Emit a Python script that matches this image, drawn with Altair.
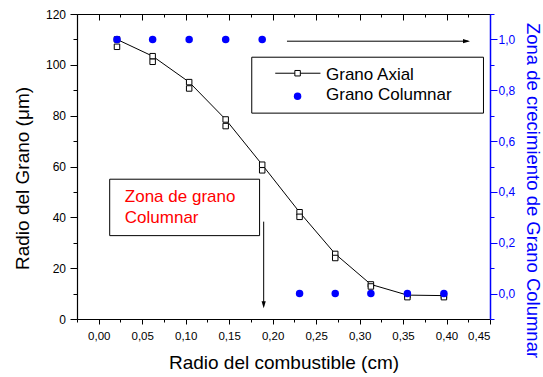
import altair as alt
import pandas as pd

# Measured grain data along the fuel radius
radius = [0.021, 0.062, 0.104, 0.146, 0.188, 0.231, 0.272, 0.313, 0.355, 0.397]
axial_upper = [110.0, 103.4, 93.2, 78.5, 60.7, 42.0, 25.6, 13.6, 9.4, 9.2]
axial_lower = [107.1, 101.2, 90.7, 75.9, 58.5, 40.2, 24.0, 12.8, 8.6, 8.6]
columnar_zone = [1, 1, 1, 1, 1, 0, 0, 0, 0, 0]

# Axis tick positions
x_major = [0.0, 0.05, 0.10, 0.15, 0.20, 0.25, 0.30, 0.35, 0.40, 0.45]
x_minor = [-0.025, 0.025, 0.075, 0.125, 0.175, 0.225, 0.275, 0.325, 0.375, 0.425]
yl_major = [0, 20, 40, 60, 80, 100, 120]
yl_minor = [10, 30, 50, 70, 90, 110]
yr_major = [0.0, 0.2, 0.4, 0.6, 0.8, 1.0]
yr_minor = [-0.1, 0.1, 0.3, 0.5, 0.7, 0.9, 1.1]

FONT = "Liberation Sans"
BLUE = "#0000ff"

axial = pd.DataFrame({"radius": radius, "upper": axial_upper, "lower": axial_lower})
axial_pts = pd.DataFrame({"radius": radius * 2, "value": axial_upper + axial_lower})
columnar = pd.DataFrame({"radius": radius, "zone": columnar_zone})

xs = alt.Scale(domain=[-0.025, 0.45], nice=False, zero=False)
yl = alt.Scale(domain=[0, 120], nice=False, zero=False)
yr = alt.Scale(domain=[-0.1, 1.1], nice=False, zero=False)

x_fmt = "replace(format(datum.value, '.2f'), '.', ',')"
yr_fmt = "replace(format(datum.value, '.1f'), '.', ',')"

# Axial grain line (bottom and left main axes)
axial_line = alt.Chart(axial).mark_line(color="black", strokeWidth=1).encode(
    x=alt.X("radius:Q", scale=xs, axis=alt.Axis(
        orient="bottom", values=x_major, labelExpr=x_fmt, tickSize=5, tickColor="black",
        domainColor="black", domainWidth=1.2, labelFont=FONT, labelFontSize=11.5,
        labelColor="black", labelBaseline="alphabetic", labelPadding=15, grid=False,
        title="Radio del combustible (cm)", titleFont=FONT, titleFontSize=19,
        titleFontWeight="normal", titleColor="black", titleBaseline="alphabetic",
        titleY=49, titleX=206.5, titleAnchor="middle")),
    y=alt.Y("upper:Q", scale=yl, axis=alt.Axis(
        orient="left", values=yl_major, format="d", tickSize=7, tickColor="black",
        domainColor="black", domainWidth=1.2, labelFont=FONT, labelFontSize=12,
        labelColor="black", labelPadding=4.5, grid=False,
        title="Radio del Grano (\u03bcm)", titleFont=FONT, titleFontSize=19,
        titleFontWeight="normal", titleColor="black", titleAngle=-90,
        titleAlign="center", titleBaseline="alphabetic", titleX=-49, titleY=164)),
)

# Axial grain markers (minor ticks on bottom and left)
axial_marks = alt.Chart(axial_pts).mark_point(
    shape="square", filled=True, fill="white", stroke="black", strokeWidth=1,
    size=30, opacity=1).encode(
    x=alt.X("radius:Q", scale=xs, axis=alt.Axis(
        orient="bottom", values=x_minor, labels=False, domain=False, tickSize=3,
        tickColor="black", grid=False, title=None)),
    y=alt.Y("value:Q", scale=yl, axis=alt.Axis(
        orient="left", values=yl_minor, labels=False, domain=False, tickSize=4,
        tickColor="black", grid=False, title=None)),
)

def frame_layer(x_axis):
    return alt.Chart(axial).mark_point(opacity=0).encode(
        x=alt.X("radius:Q", scale=xs, axis=x_axis),
        y=alt.Y("upper:Q", scale=yl, axis=None),
    )

top_line = frame_layer(alt.Axis(orient="top", domain=True, domainColor="black",
                                domainWidth=1.2, ticks=False, labels=False,
                                grid=False, title=None))
top_major = frame_layer(alt.Axis(orient="top", values=x_major, domain=False,
                                 tickSize=6, offset=-6, tickColor="black",
                                 labels=False, grid=False, title=None))
top_minor = frame_layer(alt.Axis(orient="top", values=x_minor, domain=False,
                                 tickSize=3, offset=-3, tickColor="black",
                                 labels=False, grid=False, title=None))

# Columnar grain zone on the right axis
columnar_dots = alt.Chart(columnar).mark_circle(color=BLUE, size=56, opacity=1).encode(
    x=alt.X("radius:Q", scale=xs, axis=None),
    y=alt.Y("zone:Q", scale=yr, axis=alt.Axis(
        orient="right", values=yr_major, labelExpr=yr_fmt, tickSize=7, tickColor=BLUE,
        domainColor=BLUE, domainWidth=1.5, labelFont=FONT, labelFontSize=12,
        labelColor=BLUE, labelPadding=1, grid=False,
        title="Zona de crecimiento de Grano Columnar", titleFont=FONT,
        titleFontSize=18.5, titleFontWeight="normal", titleColor=BLUE, titleAngle=90,
        titleAlign="center", titleBaseline="alphabetic", titleX=36, titleY=176)),
)

right_minor = alt.Chart(columnar).mark_point(opacity=0).encode(
    x=alt.X("radius:Q", scale=xs, axis=None),
    y=alt.Y("zone:Q", scale=yr, axis=alt.Axis(
        orient="right", values=yr_minor, labels=False, domain=False, tickSize=4,
        tickColor=BLUE, grid=False, title=None)),
)

# Annotation boxes (data units of the left axis)
boxes = pd.DataFrame({
    "x": [0.176, 0.0126], "x2": [0.4425, 0.185],
    "y": [81.0, 32.8], "y2": [103.0, 55.0],
})
box_layer = alt.Chart(boxes).mark_rect(fill="white", stroke="black", strokeWidth=1).encode(
    x=alt.X("x:Q", scale=xs, axis=None), x2="x2",
    y=alt.Y("y:Q", scale=yl, axis=None), y2="y2",
)

# Legend samples
legend_rule = pd.DataFrame({"x": [0.203], "x2": [0.255], "y": [96.7]})
legend_rule_layer = alt.Chart(legend_rule).mark_rule(color="black", strokeWidth=1).encode(
    x=alt.X("x:Q", scale=xs, axis=None), x2="x2",
    y=alt.Y("y:Q", scale=yl, axis=None),
)
legend_sq = pd.DataFrame({"x": [0.2287], "y": [96.7]})
legend_sq_layer = alt.Chart(legend_sq).mark_point(
    shape="square", filled=True, fill="white", stroke="black", strokeWidth=1,
    size=30, opacity=1).encode(
    x=alt.X("x:Q", scale=xs, axis=None),
    y=alt.Y("y:Q", scale=yl, axis=None),
)
legend_dot = pd.DataFrame({"x": [0.2287], "y": [87.6]})
legend_dot_layer = alt.Chart(legend_dot).mark_circle(color=BLUE, size=56, opacity=1).encode(
    x=alt.X("x:Q", scale=xs, axis=None),
    y=alt.Y("y:Q", scale=yl, axis=None),
)

labels = pd.DataFrame({
    "x": [0.2614, 0.2614, 0.030, 0.030],
    "y": [94.1, 86.0, 46.2, 37.7],
    "label": ["Grano Axial", "Grano Columnar", "Zona de grano", "Columnar"],
    "color": ["black", "black", "#ff0000", "#ff0000"],
})
label_layer = alt.Chart(labels).mark_text(
    align="left", baseline="alphabetic", font=FONT, fontSize=17).encode(
    x=alt.X("x:Q", scale=xs, axis=None),
    y=alt.Y("y:Q", scale=yl, axis=None),
    text="label:N",
    color=alt.Color("color:N", scale=None),
)

# Arrows
arrows = pd.DataFrame({
    "x": [0.2165, 0.1897], "x2": [0.425, 0.1897],
    "y": [109.3, 38.3], "y2": [109.3, 5.0],
})
arrow_lines = alt.Chart(arrows).mark_rule(color="black", strokeWidth=1).encode(
    x=alt.X("x:Q", scale=xs, axis=None), x2="x2",
    y=alt.Y("y:Q", scale=yl, axis=None), y2="y2",
)
head_right = alt.Chart(pd.DataFrame({"x": [0.427], "y": [109.3]})).mark_point(
    shape="M0,0L-2,-0.6L-2,0.6Z", filled=True, color="black", size=49, opacity=1).encode(
    x=alt.X("x:Q", scale=xs, axis=None),
    y=alt.Y("y:Q", scale=yl, axis=None),
)
head_down = alt.Chart(pd.DataFrame({"x": [0.1897], "y": [4.2]})).mark_point(
    shape="M0,0L-0.6,-2L0.6,-2Z", filled=True, color="black", size=49, opacity=1).encode(
    x=alt.X("x:Q", scale=xs, axis=None),
    y=alt.Y("y:Q", scale=yl, axis=None),
)

chart = alt.layer(
    axial_line, axial_marks, top_line, top_major, top_minor,
    box_layer, legend_rule_layer, legend_sq_layer, legend_dot_layer, label_layer,
    arrow_lines, head_right, head_down,
    columnar_dots, right_minor,
).resolve_scale(y="independent").resolve_axis(x="independent", y="independent").properties(
    width=413, height=305,
    padding={"left": 77, "top": 14, "right": 53, "bottom": 58},
    autosize=alt.AutoSizeParams(type="none"),
    background="white",
).configure_view(stroke=None)

chart.save("out.html", embed_options={"renderer": "svg", "actions": False})
